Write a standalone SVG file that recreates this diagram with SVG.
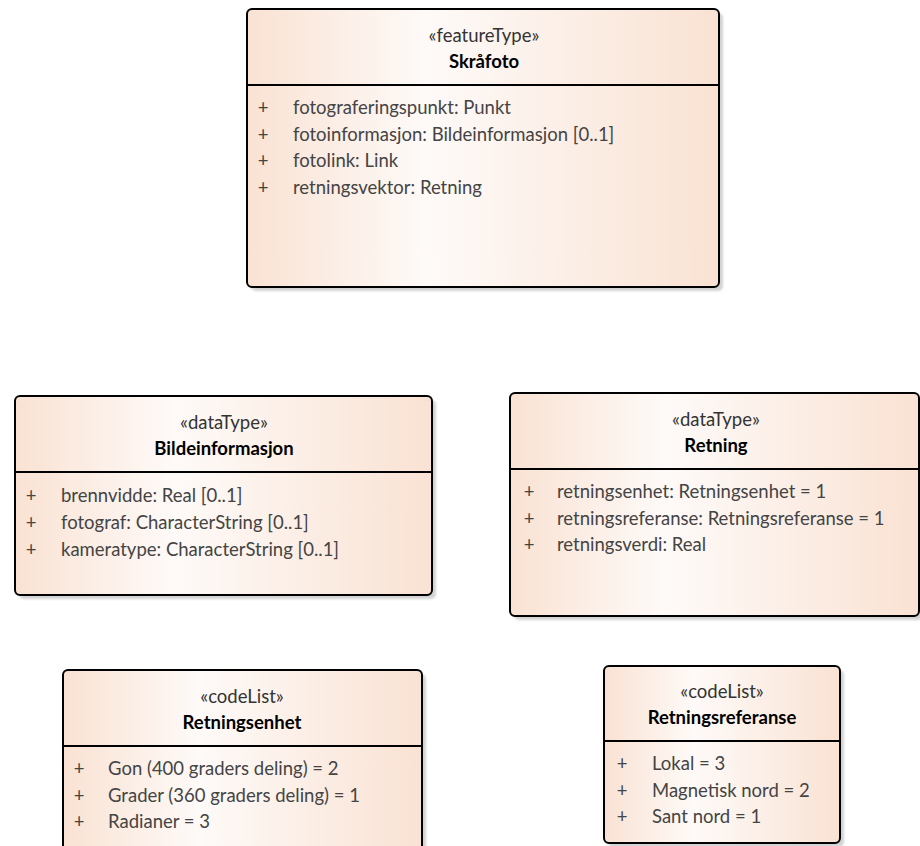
<svg xmlns="http://www.w3.org/2000/svg" width="920" height="846" viewBox="0 0 920 846">
<defs>
<linearGradient id="g" x1="0" y1="0" x2="1" y2="0">
<stop offset="0" stop-color="#f9e2d3"/>
<stop offset="0.38" stop-color="#fefaf8"/>
<stop offset="1" stop-color="#f9e2d3"/>
</linearGradient>
<filter id="sh" x="-5%" y="-5%" width="115%" height="115%">
<feGaussianBlur stdDeviation="1.2"/>
</filter>
</defs>
<style>
.shadow{fill:#c8c8c8;filter:url(#sh);opacity:0.8}
.box{fill:url(#g);stroke:#000;stroke-width:2}
.div{stroke:#000;stroke-width:2}
text{font-family:Lato,"Liberation Sans",sans-serif;font-size:18.5px}
.st{fill:#333;text-anchor:middle}
.nm{fill:#000;font-weight:bold;text-anchor:middle}
.at{fill:#444}
.pl{fill:#444;text-anchor:middle}
</style>
<g id="skrafoto">
<rect class="shadow" x="251" y="13" width="472" height="278" rx="5"/>
<rect class="box" x="247" y="9" width="472" height="278" rx="5"/>
<line class="div" x1="247" y1="85" x2="719" y2="85"/>
<text class="st" x="484" y="42">«featureType»</text>
<text class="nm" x="484" y="68">Skråfoto</text>
<text class="pl" x="263" y="114">+</text><text class="at" x="293" y="114">fotograferingspunkt: Punkt</text>
<text class="pl" x="263" y="141">+</text><text class="at" x="293" y="141">fotoinformasjon: Bildeinformasjon [0..1]</text>
<text class="pl" x="263" y="167">+</text><text class="at" x="293" y="167">fotolink: Link</text>
<text class="pl" x="263" y="194">+</text><text class="at" x="293" y="194">retningsvektor: Retning</text>
</g>
<g id="bildeinformasjon">
<rect class="shadow" x="19" y="400" width="417" height="199" rx="5"/>
<rect class="box" x="15" y="396" width="417" height="199" rx="5"/>
<line class="div" x1="15" y1="472" x2="432" y2="472"/>
<text class="st" x="224" y="429">«dataType»</text>
<text class="nm" x="224" y="455">Bildeinformasjon</text>
<text class="pl" x="31" y="502">+</text><text class="at" x="61" y="502">brennvidde: Real [0..1]</text>
<text class="pl" x="31" y="529">+</text><text class="at" x="61" y="529">fotograf: CharacterString [0..1]</text>
<text class="pl" x="31" y="556">+</text><text class="at" x="61" y="556">kameratype: CharacterString [0..1]</text>
</g>
<g id="retning">
<rect class="shadow" x="514" y="397" width="409" height="223" rx="5"/>
<rect class="box" x="510" y="393" width="409" height="223" rx="5"/>
<line class="div" x1="510" y1="469" x2="919" y2="469"/>
<text class="st" x="716" y="426">«dataType»</text>
<text class="nm" x="716" y="452">Retning</text>
<text class="pl" x="529" y="498">+</text><text class="at" x="557" y="498">retningsenhet: Retningsenhet = 1</text>
<text class="pl" x="529" y="525">+</text><text class="at" x="557" y="525">retningsreferanse: Retningsreferanse = 1</text>
<text class="pl" x="529" y="551">+</text><text class="at" x="557" y="551">retningsverdi: Real</text>
</g>
<g id="retningsenhet">
<rect class="shadow" x="67" y="674" width="359" height="190" rx="5"/>
<rect class="box" x="63" y="670" width="359" height="190" rx="5"/>
<line class="div" x1="63" y1="746" x2="422" y2="746"/>
<text class="st" x="242" y="703">«codeList»</text>
<text class="nm" x="242" y="729">Retningsenhet</text>
<text class="pl" x="79" y="775">+</text><text class="at" x="108" y="775">Gon (400 graders deling) = 2</text>
<text class="pl" x="79" y="802">+</text><text class="at" x="108" y="802">Grader (360 graders deling) = 1</text>
<text class="pl" x="79" y="828">+</text><text class="at" x="108" y="828">Radianer = 3</text>
</g>
<g id="retningsreferanse">
<rect class="shadow" x="608" y="670" width="236" height="177" rx="5"/>
<rect class="box" x="604" y="666" width="236" height="177" rx="5"/>
<line class="div" x1="604" y1="741" x2="840" y2="741"/>
<text class="st" x="722" y="698">«codeList»</text>
<text class="nm" x="722" y="724">Retningsreferanse</text>
<text class="pl" x="622" y="770">+</text><text class="at" x="652" y="770">Lokal = 3</text>
<text class="pl" x="622" y="797">+</text><text class="at" x="652" y="797">Magnetisk nord = 2</text>
<text class="pl" x="622" y="823">+</text><text class="at" x="652" y="823">Sant nord = 1</text>
</g>
<g id="connectors"/>
</svg>
